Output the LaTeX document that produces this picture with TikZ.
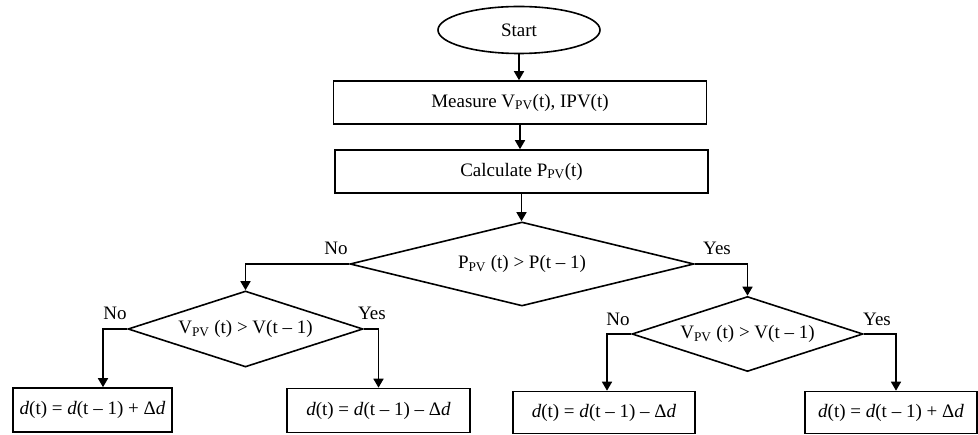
\documentclass[tikz,border=0pt]{standalone}
\usepackage{fontspec}
\setmainfont{Liberation Serif}
\usetikzlibrary{shapes.geometric,arrows.meta}
\begin{document}
\begin{tikzpicture}[x=1pt,y=-1pt,
  every node/.style={font=\fontsize{19}{22}\selectfont, inner sep=0pt},
  flowline/.style={line width=1.6pt, -{Triangle[length=9pt,width=10pt]}},
  procbox/.style={draw, line width=1.6pt, rectangle},
  decision/.style={draw, line width=1.6pt, diamond, aspect=4},
  termin/.style={draw, line width=1.6pt, ellipse},
  branchlbl/.style={font=\fontsize{19}{22}\selectfont}]
\useasboundingbox (0,0) rectangle (978,435);

\node[termin, minimum width=162pt, minimum height=47pt] (start) at (519,30) {Start};
\node[procbox, minimum width=373pt, minimum height=43pt] (measure) at (520,102.5) {Measure V\textsubscript{PV}(t), IPV(t)};
\node[procbox, minimum width=373pt, minimum height=43pt] (calc) at (521.5,171.5) {Calculate P\textsubscript{PV}(t)};
\node[decision, minimum width=344pt, minimum height=84pt] (big) at (522,264) {P\textsubscript{PV} (t) > P(t – 1)};
\node[decision, minimum width=235pt, minimum height=76pt] (ld) at (245.5,329) {V\textsubscript{PV} (t) > V(t – 1)};
\node[decision, minimum width=231pt, minimum height=75pt] (rd) at (747.5,334) {V\textsubscript{PV} (t) > V(t – 1)};

\node[procbox, minimum width=159pt, minimum height=44pt] (b1) at (92.5,410) {\textit{d}(t) = \textit{d}(t – 1) + Δ\textit{d}};
\node[procbox, minimum width=183pt, minimum height=44pt] (b2) at (378.5,410.5) {\textit{d}(t) = \textit{d}(t – 1) – Δ\textit{d}};
\node[procbox, minimum width=182pt, minimum height=42pt] (b3) at (604,412.5) {\textit{d}(t) = \textit{d}(t – 1) – Δ\textit{d}};
\node[procbox, minimum width=172pt, minimum height=42pt] (b4) at (891,412.5) {\textit{d}(t) = \textit{d}(t – 1) + Δ\textit{d}};

\node[branchlbl] (lno) at (336,248) {No};
\node[branchlbl] (lyes) at (717,248) {Yes};
\node[branchlbl] (llno) at (115,313) {No};
\node[branchlbl] (llyes) at (372,313) {Yes};
\node[branchlbl] (rrno) at (618,319) {No};
\node[branchlbl] (rryes) at (877,319) {Yes};

\draw[flowline] (start.south) -- (start.south |- measure.north);
\draw[flowline] (measure.south) -- (measure.south |- calc.north);
\draw[flowline] (calc.south) -- (calc.south |- big.north);
\draw[flowline] (big.west) -| (ld.north);
\draw[flowline] (big.east) -| (rd.north);
\draw[flowline] (ld.west) -| ([xshift=10.5pt]b1.north);
\draw[flowline] (ld.east) -| (b2.north);
\draw[flowline] (rd.west) -| ([xshift=3pt]b3.north);
\draw[flowline] (rd.east) -| ([xshift=5pt]b4.north);
\end{tikzpicture}
\end{document}
